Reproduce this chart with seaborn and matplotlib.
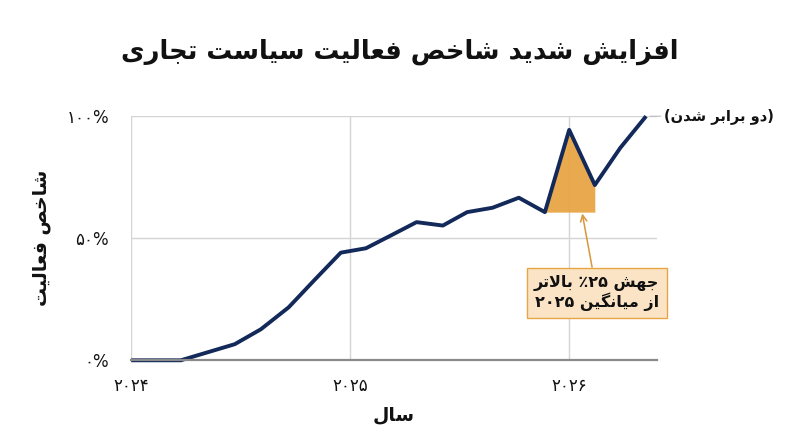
import itertools
import pandas as pd
import matplotlib
matplotlib.use("Agg")
import matplotlib.pyplot as plt
import seaborn as sns

# ---- data ----
years = [2024.00, 2024.227, 2024.473, 2024.592, 2024.719, 2024.837, 2024.957,
         2025.072, 2025.187, 2025.303, 2025.423, 2025.534, 2025.650, 2025.770,
         2025.889, 2026.000, 2026.117, 2026.233, 2026.351]
activity = [0.0, 0.0, 6.6, 12.7, 21.7, 32.9, 44.1,
            45.9, 51.2, 56.6, 55.2, 60.7, 62.5, 66.6,
            60.7, 94.4, 71.8, 87.0, 100.0]
x_ticks = [2024, 2025, 2026]
y_ticks = [0, 50, 100]

title = "افزایش شدید شاخص فعالیت سیاست تجاری"
x_label = "سال"
y_label = "شاخص فعالیت"
end_note = "(دو برابر شدن)"
box_lines = ["جهش ۲۵٪ بالاتر", "از میانگین ۲۰۲۵"]

NAVY = "#12295a"
ORANGE = "#e8a544"
INK = "#111111"

# ---- minimal persian shaping (matplotlib has no complex text layout) ----
FORMS = {
    'ا': (0xFE8D, 0xFE8E), 'د': (0xFEA9, 0xFEAA), 'ر': (0xFEAD, 0xFEAE),
    'ز': (0xFEAF, 0xFEB0), 'و': (0xFEED, 0xFEEE),
    'ب': (0xFE8F, 0xFE90, 0xFE91, 0xFE92), 'ت': (0xFE95, 0xFE96, 0xFE97, 0xFE98),
    'ج': (0xFE9D, 0xFE9E, 0xFE9F, 0xFEA0), 'خ': (0xFEA5, 0xFEA6, 0xFEA7, 0xFEA8),
    'س': (0xFEB1, 0xFEB2, 0xFEB3, 0xFEB4), 'ش': (0xFEB5, 0xFEB6, 0xFEB7, 0xFEB8),
    'ص': (0xFEB9, 0xFEBA, 0xFEBB, 0xFEBC), 'ع': (0xFEC9, 0xFECA, 0xFECB, 0xFECC),
    'ف': (0xFED1, 0xFED2, 0xFED3, 0xFED4), 'ل': (0xFEDD, 0xFEDE, 0xFEDF, 0xFEE0),
    'م': (0xFEE1, 0xFEE2, 0xFEE3, 0xFEE4), 'ن': (0xFEE5, 0xFEE6, 0xFEE7, 0xFEE8),
    'ه': (0xFEE9, 0xFEEA, 0xFEEB, 0xFEEC), 'ی': (0xFBFC, 0xFBFD, 0xFBFE, 0xFBFF),
    'گ': (0xFB92, 0xFB93, 0xFB94, 0xFB95),
}
DIGITS = set("0123456789۰۱۲۳۴۵۶۷۸۹")
MIRROR = {"(": ")", ")": "("}


def fa(text):
    """Shape persian letters and put them in visual (left to right) order."""
    out = []
    i, n = 0, len(text)
    while i < n:
        c = text[i]
        if c not in FORMS:
            out.append(c)
            i += 1
            continue
        prev = text[i - 1] if i > 0 else ""
        link_prev = prev in FORMS and len(FORMS[prev]) == 4
        if c == "ل" and i + 1 < n and text[i + 1] == "ا":
            out.append(chr(0xFEFC if link_prev else 0xFEFB))
            i += 2
            continue
        nxt = text[i + 1] if i + 1 < n else ""
        link_next = len(FORMS[c]) == 4 and nxt in FORMS
        f = FORMS[c]
        if link_prev and link_next:
            g = f[3]
        elif link_prev:
            g = f[1]
        elif link_next:
            g = f[2]
        else:
            g = f[0]
        out.append(chr(g))
        i += 1
    rev = [MIRROR.get(c, c) for c in out[::-1]]
    res = ""
    for is_num, grp in itertools.groupby(rev, key=lambda c: c in DIGITS):
        grp = list(grp)
        res += "".join(grp[::-1] if is_num else grp)
    return res


def fa_num(s):
    return str(s).translate(str.maketrans("0123456789", "۰۱۲۳۴۵۶۷۸۹"))


df = pd.DataFrame({"year": years, "activity": activity})

sns.set_style("whitegrid")
plt.rcParams["font.family"] = ["DejaVu Sans"]
plt.rcParams["text.color"] = INK

fig = plt.figure(figsize=(8, 4.47), dpi=100)
ax = fig.add_axes([0.164, 0.194, 0.657, 0.546])

# highlighted jump: from the dip before the peak to the following trough
base = activity[14]
ax.fill_between(years[14:17], activity[14:17], base, color=ORANGE, alpha=0.95,
                linewidth=0, zorder=2)

sns.lineplot(data=df, x="year", y="activity", color=NAVY, linewidth=2.8,
             ax=ax, zorder=3, clip_on=False)
ax.lines[-1].set_solid_capstyle("butt")

ax.set_xlim(2024, 2026.40)
ax.set_ylim(0, 100)
ax.set_xticks(x_ticks)
ax.set_xticklabels([fa_num(t) for t in x_ticks])
ax.set_yticks(y_ticks)
ax.set_yticklabels([fa_num(t) + "%" for t in y_ticks])
ax.grid(True, color="#d4d4d4", linewidth=1)
ax.tick_params(axis="y", length=8, width=1, color="#d4d4d4", pad=8,
               labelsize=12, labelcolor=INK)
ax.tick_params(axis="x", length=6, width=1, color="#d4d4d4", pad=6,
               labelsize=12, labelcolor=INK)
for side in ["left", "top", "right"]:
    ax.spines[side].set_visible(False)
ax.spines["bottom"].set_color("#8a8a8a")
ax.spines["bottom"].set_linewidth(1.6)
ax.spines["bottom"].set_zorder(4)

ax.set_xlabel(fa(x_label), fontsize=13.5, fontweight="bold", color=INK)
ax.xaxis.set_label_coords(0.5, -0.185)
ax.set_ylabel(fa(y_label), fontsize=13.5, fontweight="bold", color=INK)
ax.yaxis.set_label_coords(-0.152, 0.5)

fig.text(0.5, 0.884, fa(title), ha="center", va="center", fontsize=18.5,
         fontweight="bold", color=INK)

# end label
ax.annotate(fa(end_note), xy=(years[-1], activity[-1]), xytext=(18, 0),
            textcoords="offset pixels", ha="left", va="center", fontsize=10.5,
            fontweight="bold", color=INK, annotation_clip=False,
            arrowprops=dict(arrowstyle="-", color="#bbbbbb", lw=0.8,
                            shrinkA=0, shrinkB=3))

# callout box for the jump
ax.annotate("\n".join(fa(s) for s in box_lines),
            xy=((years[15] + years[16]) / 2, base), xytext=(2026.126, 27.6),
            ha="center", va="center", fontsize=11.5, fontweight="bold",
            color=INK, linespacing=1.1,
            bbox=dict(boxstyle="square,pad=0.45", fc="#fbe4c6", ec=ORANGE, lw=1),
            arrowprops=dict(arrowstyle="->", color="#d9963a", lw=1.1,
                            shrinkA=0, shrinkB=1), zorder=5)

fig.savefig("out.png", dpi=100)
